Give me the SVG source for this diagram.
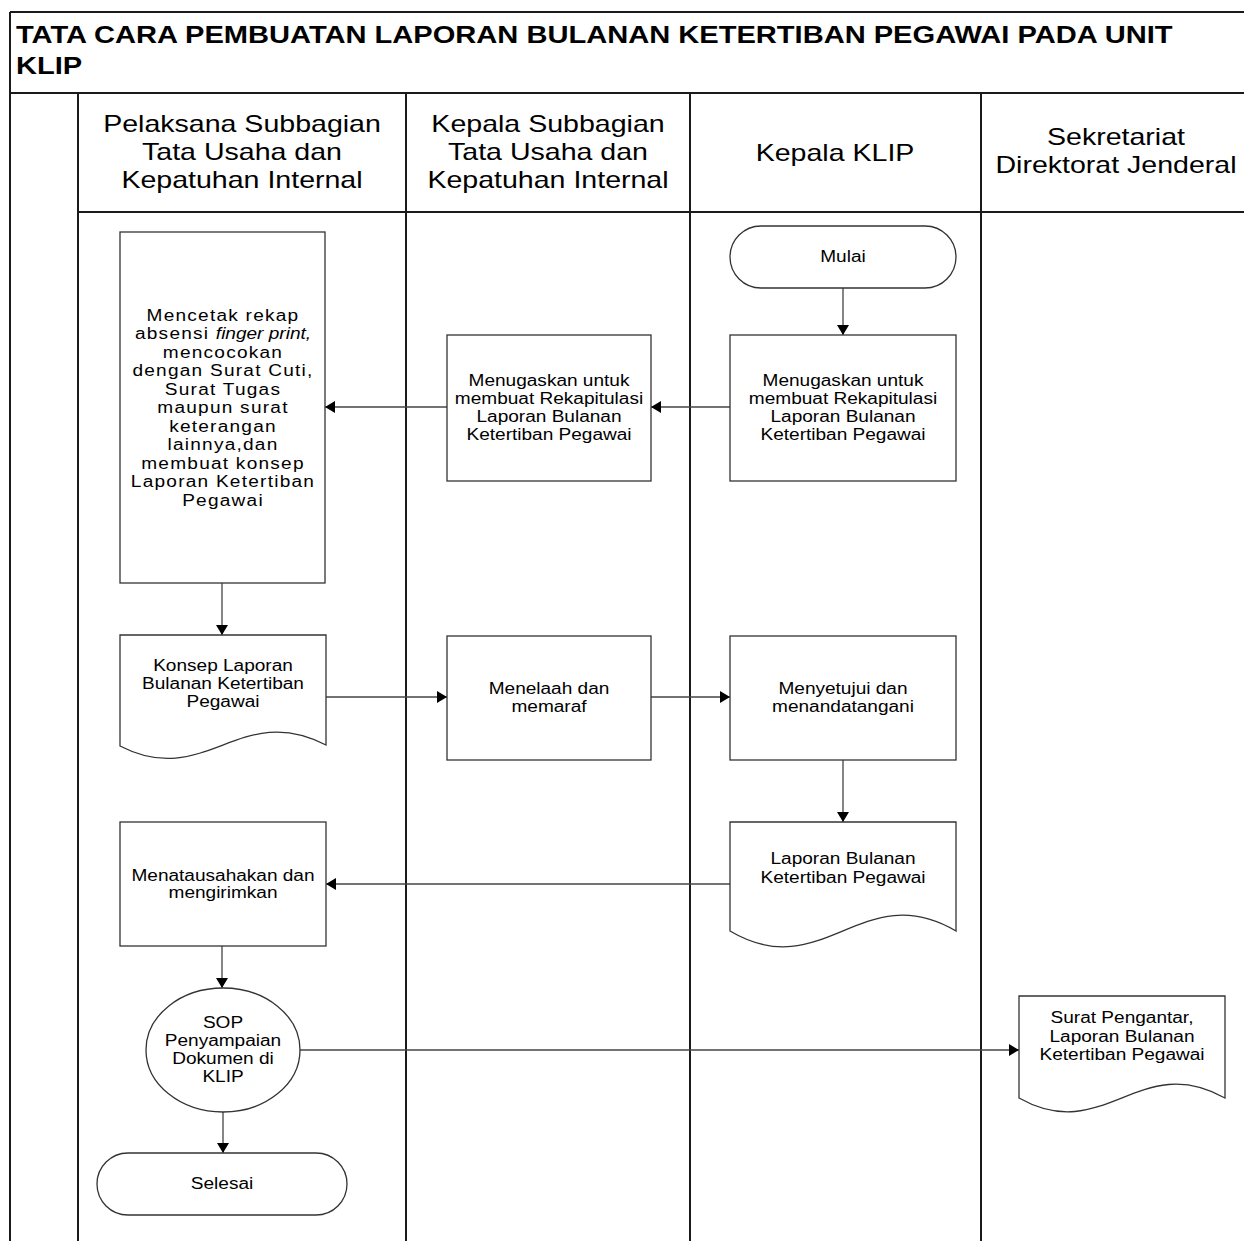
<svg xmlns="http://www.w3.org/2000/svg" width="1244" height="1241" viewBox="0 0 1244 1241">
<defs>
<marker id="ah" viewBox="0 0 10 12" refX="10" refY="6" markerWidth="10" markerHeight="12" markerUnits="userSpaceOnUse" orient="auto"><path d="M0,0 L10,6 L0,12 z" fill="#000"/></marker>
</defs>
<style>
.lane{stroke:#1a1a1a;stroke-width:2;fill:none}
.shape{fill:#fff;stroke:#333;stroke-width:1.3}
.conn{stroke:#444;stroke-width:1.3;fill:none;marker-end:url(#ah)}
text{font-family:"Liberation Sans",Arial,sans-serif;fill:#000}
.t{font-size:16px;text-anchor:middle}
.t1{font-size:16px;text-anchor:middle;letter-spacing:1.05px}
.h{font-size:24px;text-anchor:middle}
.title{font-size:24px;font-weight:bold}
</style>
<rect x="0" y="0" width="1244" height="1241" fill="#fff"/>

<g id="frame">
<path class="lane" d="M10,12 H1244 M10,12 V1241 M10,93 H1244 M78,212 H1244 M78,93 V1241 M406,93 V1241 M690,93 V1241 M981,93 V1241"/>
<text class="title" transform="matrix(1.212,0,0,1,16,0)" y="43">TATA CARA PEMBUATAN LAPORAN BULANAN KETERTIBAN PEGAWAI PADA UNIT</text>
<text class="title" transform="matrix(1.212,0,0,1,16,0)" y="74">KLIP</text>
</g>

<g id="lane-headers">
<text class="h" transform="matrix(1.19,0,0,1,242,0)" y="132">Pelaksana Subbagian</text>
<text class="h" transform="matrix(1.19,0,0,1,242,0)" y="160">Tata Usaha dan</text>
<text class="h" transform="matrix(1.19,0,0,1,242,0)" y="188">Kepatuhan Internal</text>
<text class="h" transform="matrix(1.19,0,0,1,548,0)" y="132">Kepala Subbagian</text>
<text class="h" transform="matrix(1.19,0,0,1,548,0)" y="160">Tata Usaha dan</text>
<text class="h" transform="matrix(1.19,0,0,1,548,0)" y="188">Kepatuhan Internal</text>
<text class="h" transform="matrix(1.19,0,0,1,835,0)" y="161">Kepala KLIP</text>
<text class="h" transform="matrix(1.19,0,0,1,1116,0)" y="145">Sekretariat</text>
<text class="h" transform="matrix(1.19,0,0,1,1116,0)" y="173">Direktorat Jenderal</text>
</g>

<g id="connectors">
<path class="conn" d="M843,288 V335"/>
<path class="conn" d="M730,407 H651"/>
<path class="conn" d="M447,407 H325"/>
<path class="conn" d="M222,583 V635"/>
<path class="conn" d="M326,697 H447"/>
<path class="conn" d="M651,697 H730"/>
<path class="conn" d="M843,760 V822"/>
<path class="conn" d="M730,884 H326"/>
<path class="conn" d="M222,946 V988"/>
<path class="conn" d="M223,1112 V1153"/>
<path class="conn" d="M300,1050 H1019"/>
</g>

<g id="mulai">
<rect class="shape" x="730" y="226" width="226" height="62" rx="31" ry="31"/>
<text class="t" transform="matrix(1.19,0,0,1,843,0)" y="262">Mulai</text>
</g>

<g id="kepala-klip-tugas">
<rect class="shape" x="730" y="335" width="226" height="146"/>
<text class="t" transform="matrix(1.19,0,0,1,843,0)" y="386">Menugaskan untuk</text>
<text class="t" transform="matrix(1.19,0,0,1,843,0)" y="404">membuat Rekapitulasi</text>
<text class="t" transform="matrix(1.19,0,0,1,843,0)" y="422">Laporan Bulanan</text>
<text class="t" transform="matrix(1.19,0,0,1,843,0)" y="440">Ketertiban Pegawai</text>
</g>

<g id="kasubbag-tugas">
<rect class="shape" x="447" y="335" width="204" height="146"/>
<text class="t" transform="matrix(1.19,0,0,1,549,0)" y="386">Menugaskan untuk</text>
<text class="t" transform="matrix(1.19,0,0,1,549,0)" y="404">membuat Rekapitulasi</text>
<text class="t" transform="matrix(1.19,0,0,1,549,0)" y="422">Laporan Bulanan</text>
<text class="t" transform="matrix(1.19,0,0,1,549,0)" y="440">Ketertiban Pegawai</text>
</g>

<g id="pelaksana-cetak">
<rect class="shape" x="120" y="232" width="205" height="351"/>
<text class="t1" transform="matrix(1.19,0,0,1,223,0)" y="321">Mencetak rekap</text>
<text class="t1" transform="matrix(1.19,0,0,1,223,0)" y="339">absensi <tspan font-style="italic" letter-spacing="0">finger print,</tspan></text>
<text class="t1" transform="matrix(1.19,0,0,1,223,0)" y="358">mencocokan</text>
<text class="t1" transform="matrix(1.19,0,0,1,223,0)" y="376">dengan Surat Cuti,</text>
<text class="t1" transform="matrix(1.19,0,0,1,223,0)" y="395">Surat Tugas</text>
<text class="t1" transform="matrix(1.19,0,0,1,223,0)" y="413">maupun surat</text>
<text class="t1" transform="matrix(1.19,0,0,1,223,0)" y="432">keterangan</text>
<text class="t1" transform="matrix(1.19,0,0,1,223,0)" y="450">lainnya,dan</text>
<text class="t1" transform="matrix(1.19,0,0,1,223,0)" y="469">membuat konsep</text>
<text class="t1" transform="matrix(1.19,0,0,1,223,0)" y="487">Laporan Ketertiban</text>
<text class="t1" transform="matrix(1.19,0,0,1,223,0)" y="506">Pegawai</text>
</g>

<g id="konsep-laporan">
<path class="shape" d="M120,635 H326 V745 C240,700 205,790 120,746 Z"/>
<text class="t" transform="matrix(1.19,0,0,1,223,0)" y="671">Konsep Laporan</text>
<text class="t" transform="matrix(1.19,0,0,1,223,0)" y="689">Bulanan Ketertiban</text>
<text class="t" transform="matrix(1.19,0,0,1,223,0)" y="707">Pegawai</text>
</g>

<g id="menelaah">
<rect class="shape" x="447" y="636" width="204" height="124"/>
<text class="t" transform="matrix(1.19,0,0,1,549,0)" y="694">Menelaah dan</text>
<text class="t" transform="matrix(1.19,0,0,1,549,0)" y="712">memaraf</text>
</g>

<g id="menyetujui">
<rect class="shape" x="730" y="636" width="226" height="124"/>
<text class="t" transform="matrix(1.19,0,0,1,843,0)" y="694">Menyetujui dan</text>
<text class="t" transform="matrix(1.19,0,0,1,843,0)" y="712">menandatangani</text>
</g>

<g id="laporan-bulanan">
<path class="shape" d="M730,822 H956 V931 C862,876 823,986 730,931 Z"/>
<text class="t" transform="matrix(1.19,0,0,1,843,0)" y="864">Laporan Bulanan</text>
<text class="t" transform="matrix(1.19,0,0,1,843,0)" y="883">Ketertiban Pegawai</text>
</g>

<g id="menatausahakan">
<rect class="shape" x="120" y="822" width="206" height="124"/>
<text class="t" transform="matrix(1.19,0,0,1,223,0)" y="881">Menatausahakan dan</text>
<text class="t" transform="matrix(1.19,0,0,1,223,0)" y="898">mengirimkan</text>
</g>

<g id="sop-penyampaian">
<ellipse class="shape" cx="223" cy="1050" rx="77" ry="62"/>
<text class="t" transform="matrix(1.19,0,0,1,223,0)" y="1028">SOP</text>
<text class="t" transform="matrix(1.19,0,0,1,223,0)" y="1046">Penyampaian</text>
<text class="t" transform="matrix(1.19,0,0,1,223,0)" y="1064">Dokumen di</text>
<text class="t" transform="matrix(1.19,0,0,1,223,0)" y="1082">KLIP</text>
</g>

<g id="selesai">
<rect class="shape" x="97" y="1153" width="250" height="62" rx="31" ry="31"/>
<text class="t" transform="matrix(1.19,0,0,1,222,0)" y="1189">Selesai</text>
</g>

<g id="surat-pengantar">
<path class="shape" d="M1019,996 H1225 V1098 C1139,1050 1104,1146 1019,1098 Z"/>
<text class="t" transform="matrix(1.19,0,0,1,1122,0)" y="1023">Surat Pengantar,</text>
<text class="t" transform="matrix(1.19,0,0,1,1122,0)" y="1042">Laporan Bulanan</text>
<text class="t" transform="matrix(1.19,0,0,1,1122,0)" y="1060">Ketertiban Pegawai</text>
</g>
</svg>
